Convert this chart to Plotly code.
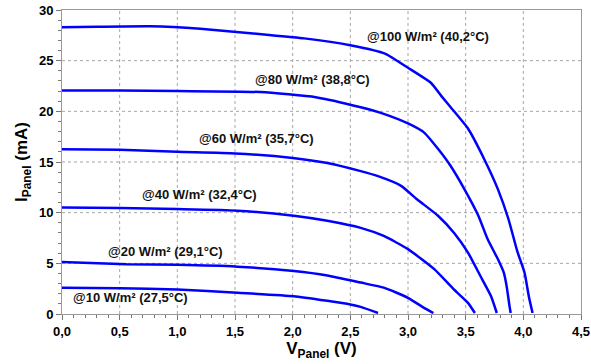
import plotly.graph_objects as go

# I-V curves (V in volts, I in mA)
v_100 = [0, 0.3, 0.77, 1.2, 1.73, 2.1, 2.51, 2.8, 3.0, 3.2, 3.29, 3.37, 3.52, 3.66, 3.78, 3.87, 3.95, 4.01, 4.05, 4.08]
i_100 = [28.3, 28.35, 28.4, 28.15, 27.6, 27.2, 26.5, 25.7, 24.3, 22.8, 21.5, 20.4, 18.3, 15.3, 12.3, 9.4, 6.1, 4.1, 1.6, 0.1]
v_80 = [0, 0.5, 1.0, 1.72, 2.2, 2.59, 2.79, 3.0, 3.14, 3.26, 3.37, 3.49, 3.61, 3.69, 3.78, 3.83, 3.855, 3.88, 3.89]
i_80 = [22.05, 22.05, 22.0, 21.9, 21.4, 20.4, 19.75, 18.8, 17.9, 16.3, 14.6, 12.3, 9.7, 7.4, 5.4, 4.1, 2.75, 0.8, 0.1]
v_60 = [0, 0.5, 1.0, 1.5, 2.0, 2.3, 2.59, 2.74, 2.94, 3.08, 3.26, 3.40, 3.52, 3.63, 3.72, 3.77]
i_60 = [16.25, 16.2, 16.0, 15.85, 15.4, 14.9, 14.1, 13.6, 12.65, 11.3, 9.7, 8.0, 6.06, 3.7, 1.76, 0.1]
v_40 = [0, 0.5, 1.0, 1.52, 2.01, 2.3, 2.59, 2.79, 3.0, 3.23, 3.40, 3.52, 3.58]
i_40 = [10.5, 10.45, 10.35, 10.2, 9.7, 9.2, 8.5, 7.7, 6.4, 4.4, 2.4, 1.1, 0.1]
v_20 = [0, 0.56, 1.0, 1.52, 2.01, 2.3, 2.59, 2.79, 3.0, 3.14, 3.22]
i_20 = [5.13, 4.9, 4.85, 4.67, 4.24, 3.8, 3.1, 2.6, 1.6, 0.6, 0.1]
v_10 = [0, 0.5, 1.0, 1.52, 2.01, 2.3, 2.5, 2.59, 2.74]
i_10 = [2.6, 2.55, 2.43, 2.1, 1.76, 1.3, 0.94, 0.7, 0.1]

labels = ["@100 W/m² (40,2°C)", "@80 W/m² (38,8°C)", "@60 W/m² (35,7°C)",
          "@40 W/m² (32,4°C)", "@20 W/m² (29,1°C)", "@10 W/m² (27,5°C)"]
label_x = [3.17, 2.17, 1.69, 1.19, 0.90, 0.59]
label_y = [27.4, 23.1, 17.3, 11.8, 6.2, 1.6]

# grid positions (axis tick values)
grid_x = [0.5, 1.0, 1.5, 2.0, 2.5, 3.0, 3.5, 4.0]
grid_y = [5, 10, 15, 20, 25]

curves = [(v_100, i_100), (v_80, i_80), (v_60, i_60), (v_40, i_40), (v_20, i_20), (v_10, i_10)]

FONT = "Liberation Sans, Arial"
GRID = dict(color="#a6a6a6", width=1, dash="3px,3px")

fig = go.Figure()
for v, i in curves:
    fig.add_trace(go.Scatter(x=v, y=i, mode="lines",
                             line=dict(color="#0000ff", width=2.5, shape="spline", smoothing=0.5),
                             showlegend=False, hoverinfo="skip"))

for gx in grid_x:
    fig.add_shape(type="line", xref="x", yref="paper", x0=gx, x1=gx, y0=0, y1=1,
                  line=GRID, layer="below")
for gy in grid_y:
    fig.add_shape(type="line", xref="paper", yref="y", x0=0, x1=1, y0=gy, y1=gy,
                  line=GRID, layer="below")

for t, x, y in zip(labels, label_x, label_y):
    fig.add_annotation(x=x, y=y, text=t, showarrow=False,
                       font=dict(family=FONT, size=13, color="#111", weight="bold"))

axis_common = dict(
    showgrid=False,
    showline=True, linecolor="#999999", mirror=True, linewidth=1,
    ticks="outside", ticklen=5, tickcolor="#777777",
    tickfont=dict(size=13, family=FONT, weight="bold"),
    zeroline=False, automargin=False,
)

fig.update_layout(
    width=591, height=364,
    margin=dict(l=62, r=10, t=10, b=50),
    paper_bgcolor="white", plot_bgcolor="white",
    separators=",.",
    font=dict(family=FONT, color="black"),
    xaxis=dict(range=[0, 4.5], dtick=0.5, tick0=0, tickformat=".1f",
               minor=dict(dtick=0.1, ticks="outside", ticklen=3, tickcolor="#777777", showgrid=False),
               title=dict(text="<b>V<sub>Panel</sub> (V)</b>", font=dict(size=17), standoff=4),
               **axis_common),
    yaxis=dict(range=[0, 30], dtick=5, tick0=0,
               minor=dict(dtick=1, ticks="outside", ticklen=3, tickcolor="#777777", showgrid=False),
               title=dict(text="<b>I<sub>Panel</sub> (mA)</b>", font=dict(size=17), standoff=6),
               **axis_common),
)

fig.write_html("out.html", config={"displayModeBar": False},
               post_script="document.body.style.margin='0';")
